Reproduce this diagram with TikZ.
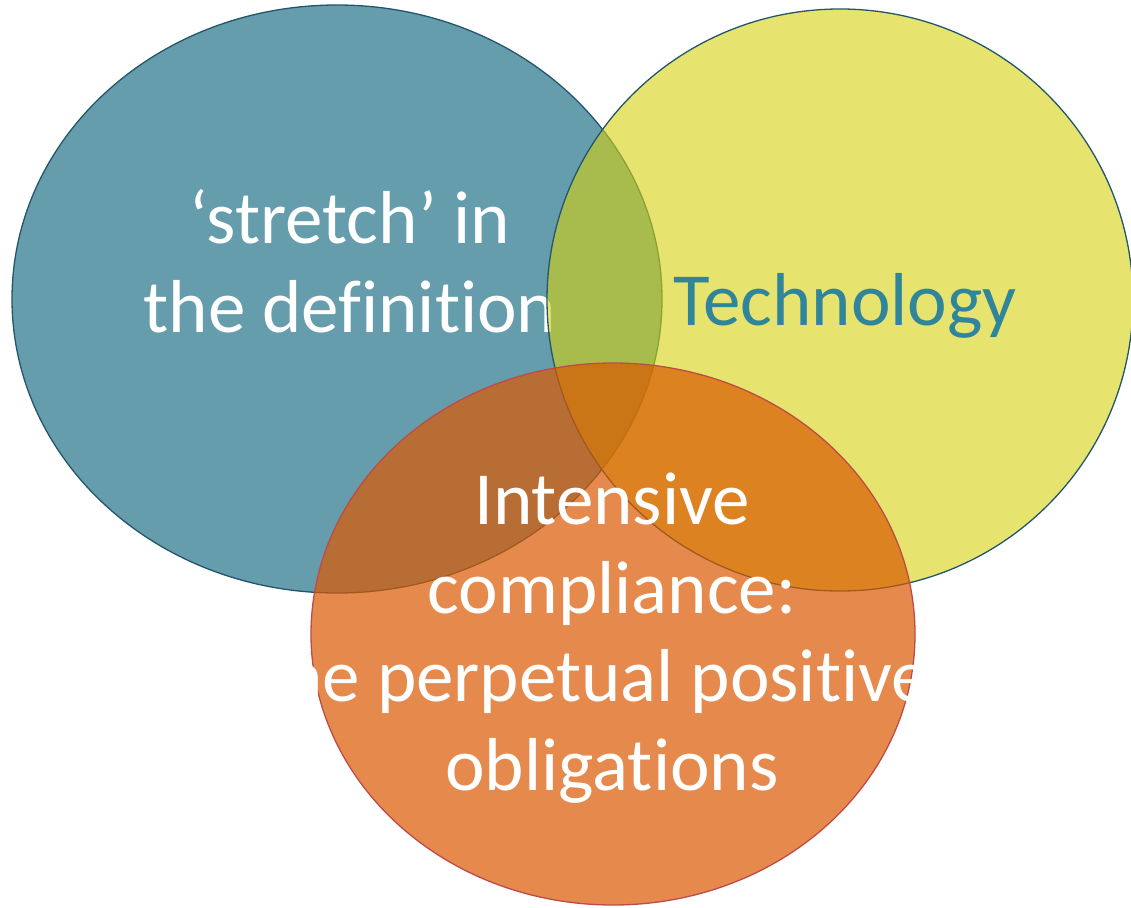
\documentclass[tikz,border=0pt]{standalone}
\usepackage{fontspec}
\setmainfont{Carlito}[Ligatures=NoCommon]
\definecolor{bluefill}{RGB}{101,157,173}
\definecolor{blueline}{RGB}{33,86,108}
\definecolor{yelfill}{RGB}{213,210,13}
\definecolor{orfill}{RGB}{218,89,0}
\definecolor{orline}{RGB}{190,75,72}
\definecolor{techtext}{RGB}{49,133,155}
\begin{document}
\begin{tikzpicture}[x=1pt,y=-1pt,
  circ/.style={line width=1.3pt},
  bigtext/.style={font=\fontsize{75}{88.5}\selectfont, align=center, inner sep=0pt}]
\useasboundingbox (0,0) rectangle (1131,907);
% blue
\path[circ, fill=bluefill, draw=blueline] (337,299) ellipse [x radius=325, y radius=294];
\node[bigtext, text=white, anchor=base] (stretch) at (350,332) {‘stretch’ in\\the definition};
% yellow
\path[circ, fill=yelfill, fill opacity=0.6, draw=blueline] (840,300) ellipse [x radius=293, y radius=291];
\node[bigtext, text=techtext, anchor=base] (tech) at (845,325) {Technology};
% orange
\path[circ, fill=orfill, fill opacity=0.7, draw=orline] (613,634) ellipse [x radius=302, y radius=271];
\node[bigtext, text=white, anchor=base] (intensive) at (612,790) {Intensive\\compliance:\\\mbox{The perpetual positive\kern48pt}\\obligations};
\end{tikzpicture}
\end{document}
